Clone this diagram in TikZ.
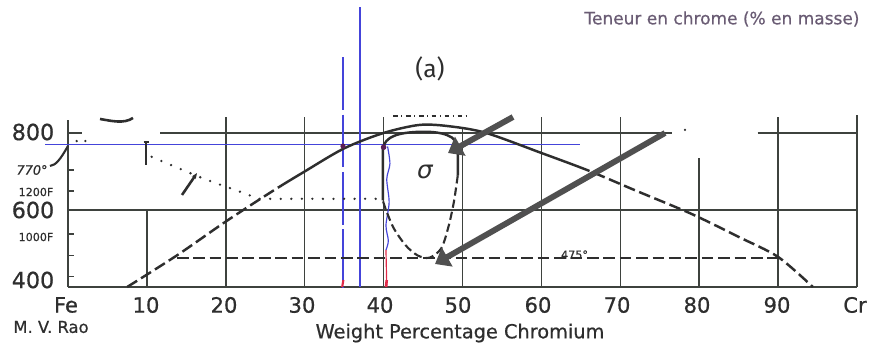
\documentclass[tikz,border=0pt]{standalone}
\usepackage{fontspec}
\setmainfont{DejaVu Sans}
\newfontfamily\scanfont{DejaVu Sans}[FakeBold=0.6]
\newfontfamily\firasans{Fira Sans}
\usetikzlibrary{arrows.meta}
\definecolor{fcink}{HTML}{2E2E2E}
\definecolor{fcgrid}{HTML}{3E423E}
\definecolor{fcblue}{HTML}{4444DA}
\definecolor{fcred}{HTML}{E02A48}
\definecolor{fcplum}{HTML}{5A1D55}
\definecolor{fcarrow}{HTML}{505050}
\definecolor{fctitle}{HTML}{6A5C74}
\tikzset{
  fcgridline/.style={draw=fcgrid, line width=1.3pt},
  fccurve/.style={draw=fcink, line width=2.1pt},
  fcdashed/.style={fccurve, dash pattern=on 10pt off 4pt},
  fcloopdash/.style={fccurve, line width=1.8pt, dash pattern=on 7pt off 3.5pt},
  fcdotted/.style={draw=fcink, line width=2.2pt, line cap=round,
    dash pattern=on 0pt off 9pt},
  fcblueline/.style={draw=fcblue, line width=1pt},
  fcbig/.style={-{Triangle[length=12pt, width=18pt]}, draw=fcarrow,
    line width=5pt},
  fcnum/.style={font=\scanfont\fontsize{17}{17}\selectfont, text=fcink,
    inner sep=0pt},
  fcsmall/.style={font=\scanfont\fontsize{9.5}{9.5}\selectfont, text=fcink,
    inner sep=0pt},
}

\begin{document}
\begin{tikzpicture}[x=0.03cm, y=0.03cm]
\fill[white, use as bounding box] (0,0) rectangle (871,348);

% Header.
\node[font=\scanfont\fontsize{14.5}{14.5}\selectfont, text=fctitle,
  inner sep=0pt] (teneur) at (722,329) {Teneur en chrome (\% en masse)};
\node[font=\firasans\fontsize{21}{21}\selectfont, text=fcink, inner sep=0pt]
  (panel) at (430,279) {(a)};

% Plot in data units: x in wt% Cr, y in degrees C.
\begin{scope}[shift={(68,-93)}, x=0.2367cm, y=0.01155cm]

% Grid.
\draw[fcgridline, line width=1.6pt] (0,400) -- (0,834);
\draw[fcgridline] (0,400) -- (100,400);
\draw[fcgridline] (0,600) -- (100,600);
\draw[fcgridline] (11.7,800) -- (76.5,800);
\draw[fcgridline] (87.4,800) -- (100,800);
\draw[fcgridline] (0,800) -- (1.8,800);
\foreach \cx/\top in {10/600, 20/841, 30/841, 40/841, 50/815, 60/841,
    70/841, 80/735, 90/841, 100/846} {
  \draw[fcgridline] (\cx,400) -- (\cx,\top);
}
\foreach \tk in {427, 482, 538, 649, 704, 770} {
  \draw[fcgridline] (0,\tk) -- (0.7,\tk);
}
\fill[fcink] (78.2,808) circle (1pt);
\fill[fcink] (1.1,779) circle (1.1pt);
\fill[fcink] (2.2,779) circle (1.1pt);

% Blue and red pencil marks.
\draw[fcblueline] (-2.9,769) -- (64.9,769);
\draw[fcblueline, dash pattern=on 45pt off 4pt] (34.85,997) -- (34.85,400);
\draw[fcblueline] (37.0,1127) -- (37.0,400);
\draw[fcblueline] plot[smooth] coordinates {(40.5,765) (40.8,720) (40.4,680)
  (40.7,620) (40.3,560) (40.6,520) (40.3,496)};
\draw[draw=fcred, line width=1pt] (40.3,496) -- (40.4,400);
\draw[draw=fcred, line width=2.2pt] (40.3,400) -- (40.4,418);
\draw[draw=fcred, line width=1.8pt] (34.75,400) -- (34.9,418);

% Boundary of the alpha + alpha' field.
\begin{scope}
  \clip (-1,380) rectangle (27,900);
  \draw[fcdashed] plot[smooth] coordinates {(7.5,400) (13.8,482) (20,570)
    (26,650) (30,700) (35,760) (40,800) (44.6,821) (48.5,817)};
\end{scope}
\begin{scope}
  \clip (27,380) rectangle (66,900);
  \draw[fccurve] plot[smooth] coordinates {(20,570) (26,650) (30,700)
    (35,760) (40,800) (44.6,821) (48.5,817) (53,800) (60,748) (66,702)
    (72,650) (79,590)};
\end{scope}
\begin{scope}
  \clip (66,380) rectangle (101,900);
  \draw[fcdashed] plot[smooth] coordinates {(53,800) (60,748) (66,702)
    (72,650) (79,590) (85,530) (90,478) (94.4,400)};
\end{scope}

% 475 degree line.
\draw[fcdashed, line width=1.8pt] (13.8,475) -- (90,475);
\node[fcsmall] (t475) at (64.2,484) {475°};

% Sigma loop.
\draw[fccurve] (39.9,625) -- (39.9,758)
  .. controls (40.1,792) and (42,801) .. (44.5,803)
  .. controls (47.5,805) and (49.4,792) .. (49.4,760) -- (49.4,690);
\draw[fcloopdash] plot[smooth] coordinates {(49.4,690) (48.9,620) (48.2,555)
  (47.3,500) (45.8,476) (44.3,482) (42.8,508) (41.3,552) (40.3,600)
  (39.9,625)};
\draw[fcink, line width=1pt, dash pattern=on 4pt off 3pt on 1pt off 3pt]
  (41.2,844) -- (50.7,844);
\fill[fcplum] (34.85,766) circle (2.2pt);
\fill[fcplum] (40.0,763) circle (2.4pt);

% Dotted boundary and small marks.
\draw[fcdotted] plot[smooth] coordinates {(10.6,738) (17.0,683) (21.2,652)
  (24.2,629)} -- (40,629);
\draw[fccurve, line width=1.5pt] (9.9,717) -- (9.9,777);
\draw[fccurve, line width=1.3pt] (9.6,777) -- (10.3,777);
\draw[fccurve, line width=2.2pt, -{Stealth[length=5pt, width=4pt]}]
  (14.45,639) -- (16.35,696);

\end{scope}

% Marks near the temperature axis.
\draw[fccurve, line width=1.8pt] (50,182) .. controls (56,183) and (60,188)
  .. (68,202);
\draw[fccurve, line width=2.2pt] (100,229) .. controls (112,227) and (124,224)
  .. (133,230);

% Axis labels.
\node[fcnum, font=\scanfont\fontsize{19}{19}\selectfont] (y800) at (33,216) {800};
\node[fcnum, font=\scanfont\fontsize{19}{19}\selectfont] (y600) at (33,138) {600};
\node[fcnum, font=\scanfont\fontsize{19}{19}\selectfont] (y400) at (33,68) {400};
\node[fcsmall, font=\scanfont\fontsize{11}{11}\selectfont\itshape]
  (y770) at (32,178) {770°};
\node[fcsmall] (y1200) at (36,156) {1200F};
\node[fcsmall] (y1000) at (36,111) {1000F};
\foreach \px/\txt [count=\i] in {66/Fe, 146/10, 224/20, 302/30, 380/40,
    458/50, 538/60, 617/70, 697/80, 777/90, 855/Cr} {
  \node[fcnum, font=\scanfont\fontsize{18}{18}\selectfont] (xlab\i)
    at (\px,43) {\txt};
}
\node[fcnum, font=\scanfont\fontsize{14}{14}\selectfont] (author) at (51,21)
  {M. V. Rao};
\node[fcnum, font=\scanfont\fontsize{16.5}{16.5}\selectfont] (xtitle)
  at (460,15) {Weight Percentage Chromium};
\node[font=\fontsize{21}{21}\selectfont\itshape, text=fcink, inner sep=0pt]
  (sigma) at (425,176) {σ};

% Thick arrows.
\coordinate (arrAtail) at (513,231);
\coordinate (arrAtip) at (448,195);
\coordinate (arrBtail) at (665,215);
\coordinate (arrBtip) at (435,84);
\draw[fcbig] (arrAtail) -- (arrAtip);
\draw[fcbig] (arrBtail) -- (arrBtip);

\end{tikzpicture}
\end{document}
